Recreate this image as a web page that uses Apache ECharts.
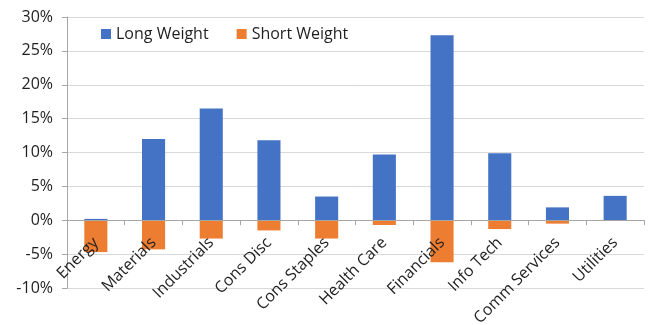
<!DOCTYPE html>
<html>
<head>
<meta charset="utf-8">
<script src="https://cdn.jsdelivr.net/npm/echarts@6/dist/echarts.min.js"></script>
<style>html,body{margin:0;padding:0;background:#fff}#c{width:649px;height:325px}</style>
</head>
<body>
<div id="c"></div>
<script>
const categories = ['Energy','Materials','Industrials','Cons Disc','Cons Staples','Health Care','Financials','Info Tech','Comm Services','Utilities'];
const longWeight = [0.2, 12.0, 16.5, 11.8, 3.5, 9.7, 27.3, 9.9, 1.9, 3.6];
const shortWeight = [-4.7, -4.3, -2.7, -1.5, -2.7, -0.7, -6.2, -1.3, -0.5, 0];
const yTicks = { min: -10, max: 30, interval: 5 };

const font = 'Open Sans';
const textColor = '#1f1f1f';
const gridTop = 17, gridBottom = 37, chartH = 325;
const plotH = chartH - gridTop - gridBottom;
const zeroOffset = plotH * (0 - yTicks.min) / (yTicks.max - yTicks.min);
const chart = echarts.init(document.getElementById('c'), null, { renderer: 'canvas' });
chart.setOption({
  animation: false,
  grid: { left: 67, right: 5, top: gridTop, bottom: gridBottom, containLabel: false, outerBoundsMode: 'none' },
  legend: {
    left: 101, top: 26, padding: 0,
    itemWidth: 10, itemHeight: 10, itemGap: 28,
    icon: 'rect',
    textStyle: { fontFamily: font, fontSize: 16, color: textColor },
    data: ['Long Weight', 'Short Weight']
  },
  xAxis: {
    type: 'category',
    data: categories,
    position: 'bottom',
    offset: -zeroOffset,
    z: 5,
    axisLine: { onZero: false, lineStyle: { color: '#a6a6a6' } },
    axisTick: { show: true, alignWithLabel: false, length: 5, lineStyle: { color: '#a6a6a6' } },
    axisLabel: { interval: 0, rotate: 45, margin: 20, fontFamily: font, fontSize: 16, color: textColor }
  },
  yAxis: {
    type: 'value',
    min: yTicks.min, max: yTicks.max, interval: yTicks.interval,
    axisLine: { show: true, lineStyle: { color: '#a6a6a6' } },
    axisTick: { show: true, length: 5, lineStyle: { color: '#a6a6a6' } },
    splitLine: { lineStyle: { color: '#d9d9d9' } },
    axisLabel: { formatter: '{value}%', margin: 14, fontFamily: font, fontSize: 16, color: textColor }
  },
  series: [
    { name: 'Long Weight', type: 'bar', data: longWeight, barWidth: '40%', barGap: '-100%', itemStyle: { color: '#4472C4' } },
    { name: 'Short Weight', type: 'bar', data: shortWeight, barWidth: '40%', itemStyle: { color: '#ED7D31' } }
  ]
});
</script>
</body>
</html>
